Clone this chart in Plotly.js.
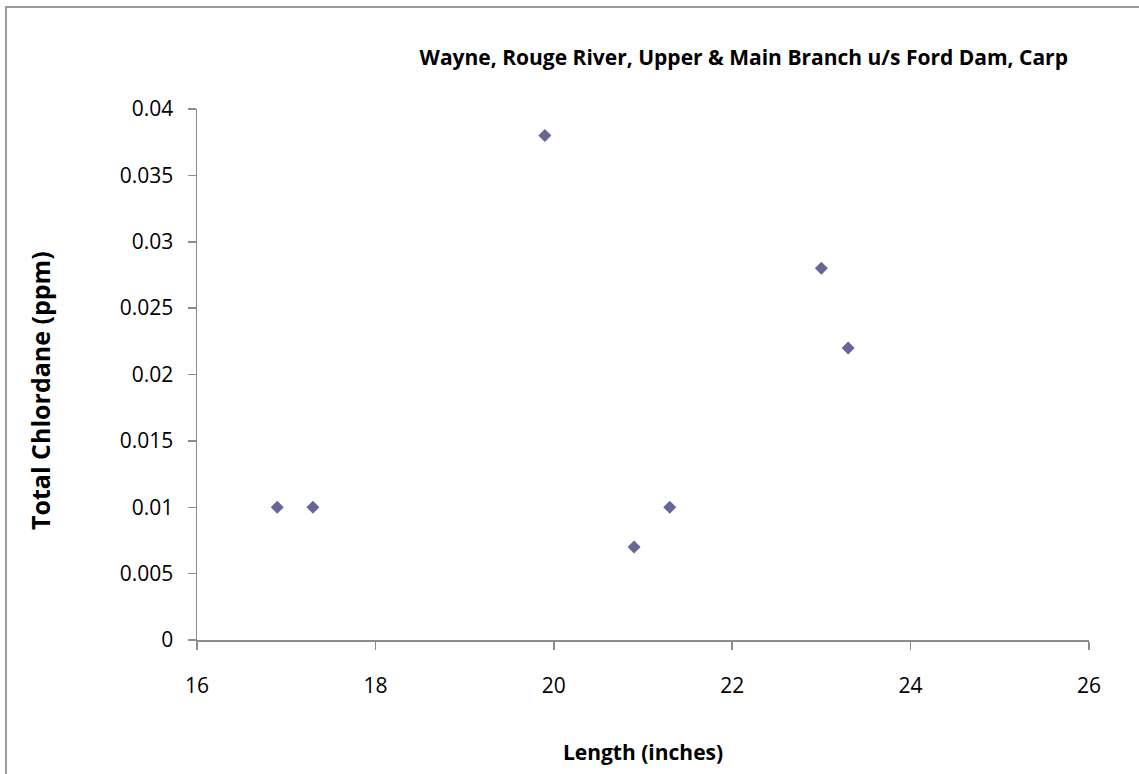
<!DOCTYPE html>
<html>
<head>
<meta charset="utf-8">
<script src="https://cdn.plot.ly/plotly-3.0.1.min.js"></script>
<style>html,body{margin:0;padding:0;background:#fff;}#chart{width:1139px;height:774px;}</style>
</head>
<body>
<div id="chart"></div>
<script>
const lengthInches = [16.9, 17.3, 19.9, 20.9, 21.3, 23.0, 23.3];
const chlordanePpm = [0.01, 0.01, 0.038, 0.007, 0.01, 0.028, 0.022];
const chartTitle = "Wayne, Rouge River, Upper & Main Branch u/s Ford Dam, Carp";
const xTitle = "Length (inches)";
const yTitle = "Total Chlordane (ppm)";
const yTickVals = [0, 0.005, 0.01, 0.015, 0.02, 0.025, 0.03, 0.035, 0.04];
const yTickText = ["0", "0.005", "0.01", "0.015", "0.02", "0.025", "0.03", "0.035", "0.04"];

const font = "Open Sans, Liberation Sans, sans-serif";
const trace = {
  x: lengthInches, y: chlordanePpm, type: "scatter", mode: "markers",
  marker: {symbol: "diamond", size: 10, color: "#666699", line: {width: 0}},
  hoverinfo: "x+y"
};
const layout = {
  width: 1139, height: 774,
  margin: {l: 197, r: 50, t: 109, b: 134},
  paper_bgcolor: "#fff", plot_bgcolor: "#fff",
  showlegend: false,
  font: {family: font, size: 21, color: "#000"},
  title: {text: "<b>" + chartTitle + "</b>", font: {family: font, size: 21, color: "#000"},
          x: 0.653, xanchor: "center", y: 0.926, yanchor: "middle"},
  xaxis: {range: [16, 26], dtick: 2, tick0: 16, showgrid: false, zeroline: false,
          showline: true, linecolor: "#8c8c8c", linewidth: 1.5,
          ticks: "outside", ticklen: 8, tickcolor: "#8c8c8c", tickwidth: 1.5,
          tickfont: {family: font, size: 21}, ticklabelstandoff: 18,
          title: {text: "<b>" + xTitle + "</b>", font: {family: font, size: 21}, standoff: 47}},
  yaxis: {range: [0, 0.04], tickvals: yTickVals, ticktext: yTickText, showgrid: false, zeroline: false,
          showline: true, linecolor: "#8c8c8c", linewidth: 1.5,
          ticks: "outside", ticklen: 8, tickcolor: "#8c8c8c", tickwidth: 1.5,
          tickfont: {family: font, size: 21}, ticklabelstandoff: 10},
  annotations: [{text: "<b>" + yTitle + "</b>", xref: "paper", yref: "paper",
                 x: -0.176, y: 0.469, xanchor: "center", yanchor: "middle",
                 textangle: -90, showarrow: false, font: {family: font, size: 25, color: "#000"}}],
  shapes: [{type: "rect", xref: "paper", yref: "paper",
            x0: -0.2141, x1: 1.3, y0: -0.6, y1: 1.1921,
            line: {color: "#9a9a9a", width: 2}, fillcolor: "rgba(0,0,0,0)", layer: "below"}]
};
Plotly.newPlot("chart", [trace], layout, {staticPlot: true, displayModeBar: false});
</script>
</body>
</html>
